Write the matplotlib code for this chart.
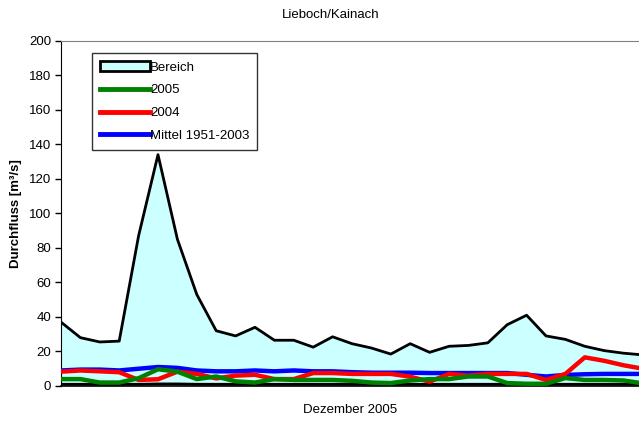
import numpy as np
import matplotlib
matplotlib.use('Agg')
import matplotlib.pyplot as plt
from matplotlib.patches import Patch
from matplotlib.lines import Line2D

plt.rcParams['font.family'] = ['Liberation Sans', 'DejaVu Sans']

# Dezember 2005, Tag 1..31
tage = np.arange(1, 32)

# Bereich (Minimum / Maximum) in m³/s
bereich_max = [37, 28, 25.5, 26, 87, 134, 85, 53, 32, 29, 34, 26.5, 26.5, 22.5, 28.5, 24.5,
               22, 18.5, 24.5, 19.5, 23, 23.5, 25, 35.5, 41, 29, 27, 23, 20.5, 19, 18]
bereich_min = [1, 1, 1, 1, 1, 1.2, 1.2, 1, 1, 1, 1, 1, 1, 1, 1, 1,
               1, 1, 1, 1, 1, 1, 1, 1, 1, 1, 1, 1, 1, 1, 1]

q2005 = [4, 4, 2, 2, 4.5, 9.7, 8.3, 4, 5.5, 2.7, 2, 4, 3.5, 3.5, 3.5, 3,
         2, 1.7, 3.2, 4, 4, 5.5, 5.5, 1.7, 1.3, 1.3, 4.6, 3.5, 3.5, 3.2, 1.5]
q2004 = [8.3, 9, 8.5, 8, 3.5, 3.9, 8.3, 7, 4.4, 6, 6.5, 4, 4, 7.5, 7.5, 7,
         7, 7, 5.4, 2.5, 7, 6, 7, 7, 7, 3.5, 7, 16.6, 14.6, 12, 10]
mittel = [9, 9.5, 9.5, 9, 10, 11, 10.5, 9, 8.5, 8.5, 9, 8.5, 9, 8.5, 8.5, 8,
          7.7, 7.7, 7.7, 7.5, 7.5, 7.5, 7.5, 7.5, 6.5, 5.5, 6.4, 6.8, 7, 7, 7]

fs = 9.5

fig = plt.figure(figsize=(6.39, 4.21), dpi=100)
ax = fig.add_axes([61/639, 35/421, 582/639, 345.3/421])

ax.fill_between(tage, bereich_min, bereich_max, facecolor='#CCFFFF', edgecolor='none', zorder=1)
ax.plot(tage, bereich_max, color='black', lw=2.0, zorder=2)
ax.plot(tage, bereich_min, color='black', lw=2.0, zorder=2)
ax.plot(tage, mittel, color='#0000FF', lw=3.2, zorder=3)
ax.plot(tage, q2004, color='#FF0000', lw=3.2, zorder=4)
ax.plot(tage, q2005, color='#008000', lw=3.2, zorder=5)

ax.set_xlim(1, 31)
ax.set_ylim(0, 200)
ax.set_yticks(np.arange(0, 201, 20))
ax.set_xticks([])
ax.tick_params(axis='y', direction='out', length=4, width=1, labelsize=fs, pad=3)

ax.spines['right'].set_visible(False)
ax.spines['top'].set_color('#808080')
ax.spines['left'].set_color('black')
ax.spines['bottom'].set_color('black')
ax.spines['bottom'].set_linewidth(1.2)

ax.set_ylabel('Durchfluss [m³/s]', fontsize=fs, fontweight='bold', labelpad=5)
fig.text(331/639, 1 - 15/421, 'Lieboch/Kainach', ha='center', va='center', fontsize=fs)
fig.text(350/639, 1 - 410/421, 'Dezember 2005', ha='center', va='center', fontsize=fs)

handles = [Patch(facecolor='#CCFFFF', edgecolor='black', linewidth=2),
           Line2D([0], [0], color='#008000', lw=3.5),
           Line2D([0], [0], color='#FF0000', lw=3.5),
           Line2D([0], [0], color='#0000FF', lw=3.5)]
labels = ['Bereich', '2005', '2004', 'Mittel 1951-2003']
leg = ax.legend(handles, labels, loc='upper left', bbox_to_anchor=(0.053, 0.963),
                fontsize=fs, frameon=True, fancybox=False, handlelength=3.8,
                handletextpad=0.0, borderpad=0.6, labelspacing=0.8, borderaxespad=0)
leg.get_frame().set_edgecolor('black')
leg.get_frame().set_linewidth(1)

fig.savefig('out.png', dpi=100)
